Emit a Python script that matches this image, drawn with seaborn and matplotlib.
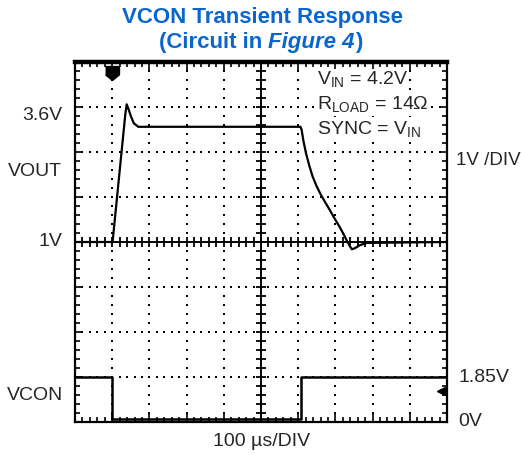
import numpy as np
import matplotlib.pyplot as plt
import seaborn as sns

# =============================================
# Trace data (100 us/DIV)
vout_time = [0, 101, 135, 139, 144, 150, 158, 170, 606, 609, 614, 621, 630, 639, 649, 659,
             672, 685, 698, 711, 721, 730, 738, 744, 752, 766, 784, 1000]   # us
vout_volts = [1.0, 1.0, 3.82, 4.06, 3.95, 3.8, 3.64, 3.56, 3.56, 3.5, 3.25, 2.97, 2.69, 2.45,
              2.25, 2.08, 1.89, 1.71, 1.52, 1.34, 1.19, 1.04, 0.92, 0.84, 0.86, 0.93, 0.98, 1.0]

vcon_time = [0, 100, 100, 607, 607, 1000]   # us
vcon_volts = [1.85, 1.85, 0.0, 0.0, 1.85, 1.85]

# channel settings (divisions)
us_per_div = 100
vout_v_per_div, vout_zero_div = 1.0, 3.0
vcon_v_per_div, vcon_zero_div = 2.0, 0.07

# =============================================
W, H = 523, 455
fontSize = 14
blue = '#0a66cc'

sns.set_style("white")
plt.rcParams['font.family'] = ['Liberation Sans', 'DejaVu Sans']
plt.rcParams['mathtext.fontset'] = 'custom'
plt.rcParams['mathtext.rm'] = 'Liberation Sans'

fig = plt.figure(figsize=(W / 100, H / 100), dpi=100)
ax = fig.add_axes([75 / W, 1 - 422 / H, 372 / W, 360 / H])
ax.set_xlim(0, 10)
ax.set_ylim(0, 8)


def px(x, y):
    return x / W, 1 - y / H


# ---- graticule
ax.set_xticks(range(11))
ax.set_yticks(range(9))
ax.set_xticks(np.arange(0, 10.01, 0.2), minor=True)
ax.set_yticks(np.arange(0, 8.01, 0.2), minor=True)
ax.tick_params(which='both', direction='in', top=True, right=True, bottom=True, left=True,
               labelbottom=False, labelleft=False, color='black', width=1.2)
ax.tick_params(which='major', length=6)
ax.tick_params(which='minor', length=3.5)
for side in ['left', 'right', 'bottom']:
    ax.spines[side].set_linewidth(1.6)
    ax.spines[side].set_color('black')
ax.spines['top'].set_linewidth(3.2)
ax.spines['top'].set_color('black')

xdots = np.arange(0, 10.01, 0.2)
ydots = np.arange(0, 8.01, 0.2)
for k in range(1, 10):
    if k != 5:
        ax.plot([k] * len(ydots), ydots, ls='none', marker='s', ms=1.6, mew=0, color='black')
for j in range(1, 8):
    if j != 4:
        ax.plot(xdots, [j] * len(xdots), ls='none', marker='s', ms=1.6, mew=0, color='black')

ax.axhline(4, color='black', lw=1.4)
ax.axvline(5, color='black', lw=1.4)
ax.plot(xdots, [4] * len(xdots), ls='none', marker='|', ms=7, mew=1.3, color='black')
ax.plot([5] * len(ydots), ydots, ls='none', marker='_', ms=7, mew=1.3, color='black')

# ---- traces
vout_x = np.array(vout_time) / us_per_div
vout_y = np.array(vout_volts) / vout_v_per_div + vout_zero_div
vcon_x = np.array(vcon_time) / us_per_div
vcon_y = np.array(vcon_volts) / vcon_v_per_div + vcon_zero_div

sns.lineplot(x=vout_x, y=vout_y, ax=ax, color='black', lw=1.6,
             estimator=None, sort=False, zorder=5)
sns.lineplot(x=vcon_x, y=vcon_y, ax=ax, color='black', lw=1.8,
             estimator=None, sort=False, zorder=5)

# trigger and ground markers
trig = [(-1, 1), (1, 1), (1, -0.2), (0, -1), (-1, -0.2)]
ax.plot([1.0], [7.75], marker=trig, ms=10, color='black', zorder=6, clip_on=False)
ax.plot([9.85], [0.69], marker='<', ms=6, color='black', zorder=6, clip_on=False)
ax.plot([9.85, 9.97], [0.69, 0.69], color='black', lw=1.5, zorder=6)

# ---- text
box = dict(facecolor='white', edgecolor='none', pad=0.5)
ax.text(6.5, 7.6, r'V$_{\mathregular{IN}}$ = 4.2V', fontsize=fontSize, va='center', ha='left',
        zorder=7, bbox=box)
ax.text(6.5, 7.04, r'R$_{\mathregular{LOAD}}$ = 14$\mathregular{\Omega}$', fontsize=fontSize,
        va='center', ha='left', zorder=7, bbox=box)
ax.text(6.5, 6.5, r'SYNC = V$_{\mathregular{IN}}$', fontsize=fontSize, va='center', ha='left',
        zorder=7, bbox=box)

fig.text(*px(62, 116), '3.6V', fontsize=fontSize, ha='right', va='center')
fig.text(*px(62, 172), 'VOUT', fontsize=fontSize, ha='right', va='center')
fig.text(*px(62, 242), '1V', fontsize=fontSize, ha='right', va='center')
fig.text(*px(63, 396), 'VCON', fontsize=fontSize, ha='right', va='center')
fig.text(*px(456, 160), '1V /DIV', fontsize=13.5, ha='left', va='center')
fig.text(*px(458, 378), '1.85V', fontsize=fontSize, ha='left', va='center')
fig.text(*px(458, 422), '0V', fontsize=fontSize, ha='left', va='center')
fig.text(*px(262, 442), '100 \u00b5s/DIV', fontsize=fontSize, ha='center', va='center')

fig.text(*px(262, 18), 'VCON Transient Response', fontsize=16, fontweight='bold',
         color=blue, ha='center', va='center')
t1 = fig.text(*px(159, 48), '(Circuit in ', fontsize=16, fontweight='bold',
              color=blue, ha='left', va='baseline')
t2 = ax.annotate('Figure 4', xy=(1, 0), xycoords=t1, fontsize=16, fontweight='bold',
                 fontstyle='italic', color=blue, ha='left', va='bottom', annotation_clip=False)
ax.annotate(')', xy=(1, 0), xycoords=t2, fontsize=16, fontweight='bold',
            color=blue, ha='left', va='bottom', annotation_clip=False)

fig.savefig('out.png', dpi=100)
